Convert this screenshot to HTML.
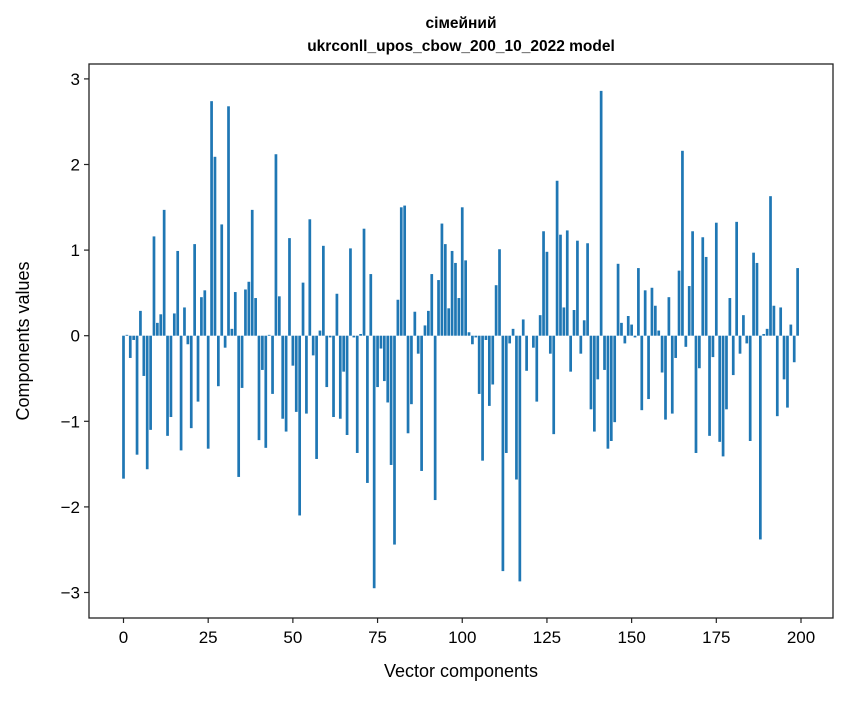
<!DOCTYPE html>
<html><head><meta charset="utf-8"><style>
body{margin:0;background:#fff;}
svg text{font-family:"Liberation Sans","DejaVu Sans",sans-serif;fill:#000;}
</style></head><body>
<svg id="chart" width="847" height="696" xmlns="http://www.w3.org/2000/svg">
<rect x="0" y="0" width="847" height="696" fill="#fff"/>
<text x="461" y="28" text-anchor="middle" font-size="15.5" font-weight="bold">сімейний</text>
<text x="461" y="51" text-anchor="middle" font-size="15.5" font-weight="bold">ukrconll_upos_cbow_200_10_2022 model</text>
<g id="bars"></g>
<g id="axes"></g>
<text x="461" y="677" text-anchor="middle" font-size="18">Vector components</text>
<text x="29" y="341" text-anchor="middle" font-size="18" transform="rotate(-90 29 341)">Components values</text>
</svg>
<script>
const values = [-1.67,0.01,-0.26,-0.05,-1.39,0.29,-0.47,-1.56,-1.10,1.16,
0.15,0.25,1.47,-1.17,-0.95,0.26,0.99,-1.34,0.33,-0.10,
-1.08,1.07,-0.77,0.45,0.53,-1.32,2.74,2.09,-0.59,1.30,
-0.14,2.68,0.08,0.51,-1.65,-0.61,0.54,0.63,1.47,0.44,
-1.22,-0.40,-1.31,0.01,-0.68,2.12,0.46,-0.97,-1.12,1.14,
-0.35,-0.89,-2.10,0.62,-0.91,1.36,-0.23,-1.44,0.06,1.05,
-0.60,-0.02,-0.95,0.49,-0.97,-0.42,-1.16,1.02,-0.02,-1.37,
0.02,1.25,-1.72,0.72,-2.95,-0.60,-0.15,-0.53,-0.78,-1.51,
-2.44,0.42,1.50,1.52,-1.14,-0.80,0.28,-0.21,-1.58,0.12,
0.29,0.72,-1.92,0.65,1.31,1.07,0.32,0.99,0.85,0.44,
1.50,0.88,0.04,-0.10,-0.02,-0.68,-1.46,-0.05,-0.82,-0.57,
0.59,1.01,-2.75,-1.37,-0.09,0.08,-1.68,-2.87,0.19,-0.41,
0.00,-0.14,-0.77,0.24,1.22,0.98,-0.21,-1.15,1.81,1.18,
0.33,1.23,-0.42,0.30,1.11,-0.21,0.18,1.08,-0.86,-1.12,
-0.51,2.86,-0.40,-1.32,-1.23,-1.01,0.84,0.15,-0.09,0.23,
0.13,-0.02,0.79,-0.87,0.53,-0.74,0.56,0.35,0.06,-0.43,
-0.98,0.45,-0.91,-0.26,0.76,2.16,-0.13,0.58,1.22,-1.37,
-0.38,1.15,0.92,-1.17,-0.25,1.32,-1.24,-1.41,-0.86,0.44,
-0.46,1.33,-0.21,0.24,-0.09,-1.23,0.97,0.85,-2.38,0.02,
0.08,1.63,0.35,-0.94,0.33,-0.51,-0.84,0.13,-0.31,0.79];
const xTicks = [0,25,50,75,100,125,150,175,200];
const yTicks = [-3,-2,-1,0,1,2,3];
const yTickLabels = ["\u22123","\u22122","\u22121","0","1","2","3"];

const NS="http://www.w3.org/2000/svg";
const L=89,R=833,T=64,B=618;
const xs=v=>123.5+v*3.3875;
const ys=v=>335.7-v*85.6;
const bars=document.getElementById('bars');
values.forEach((v,i)=>{
  const r=document.createElementNS(NS,'rect');
  
  
  const y0=ys(0),y1=ys(v);
  r.setAttribute('x',xs(i-0.4));
  r.setAttribute('width',3.3875*0.8);
  r.setAttribute('y',Math.min(y0,y1));
  r.setAttribute('height',Math.abs(y1-y0));
  r.setAttribute('fill','#1f77b4');
  bars.appendChild(r);
});
const ax=document.getElementById('axes');
const frame=document.createElementNS(NS,'rect');


frame.setAttribute('x',L);frame.setAttribute('y',T);
frame.setAttribute('width',R-L);frame.setAttribute('height',B-T);
frame.setAttribute('fill','none');frame.setAttribute('stroke','#222');frame.setAttribute('stroke-width','1.3');
ax.appendChild(frame);
xTicks.forEach(t=>{
  const l=document.createElementNS(NS,'line');
  
  
  l.setAttribute('x1',xs(t));l.setAttribute('x2',xs(t));l.setAttribute('y1',B);l.setAttribute('y2',B+5);
  l.setAttribute('stroke','#222');l.setAttribute('stroke-width','1.2');
  ax.appendChild(l);
  const tx=document.createElementNS(NS,'text');
  
  
  tx.setAttribute('x',xs(t));tx.setAttribute('y',B+25);
  tx.setAttribute('text-anchor','middle');tx.setAttribute('font-size','17');
  tx.textContent=t;
  ax.appendChild(tx);
});
yTicks.forEach((t,i)=>{
  const l=document.createElementNS(NS,'line');
  
  
  l.setAttribute('x1',L-5);l.setAttribute('x2',L);l.setAttribute('y1',ys(t));l.setAttribute('y2',ys(t));
  l.setAttribute('stroke','#222');l.setAttribute('stroke-width','1.2');
  ax.appendChild(l);
  const tx=document.createElementNS(NS,'text');
  
  
  tx.setAttribute('x',L-9);tx.setAttribute('y',ys(t)+6);
  tx.setAttribute('text-anchor','end');tx.setAttribute('font-size','17');
  tx.textContent=yTickLabels[i];
  ax.appendChild(tx);
});
</script>
</body></html>
